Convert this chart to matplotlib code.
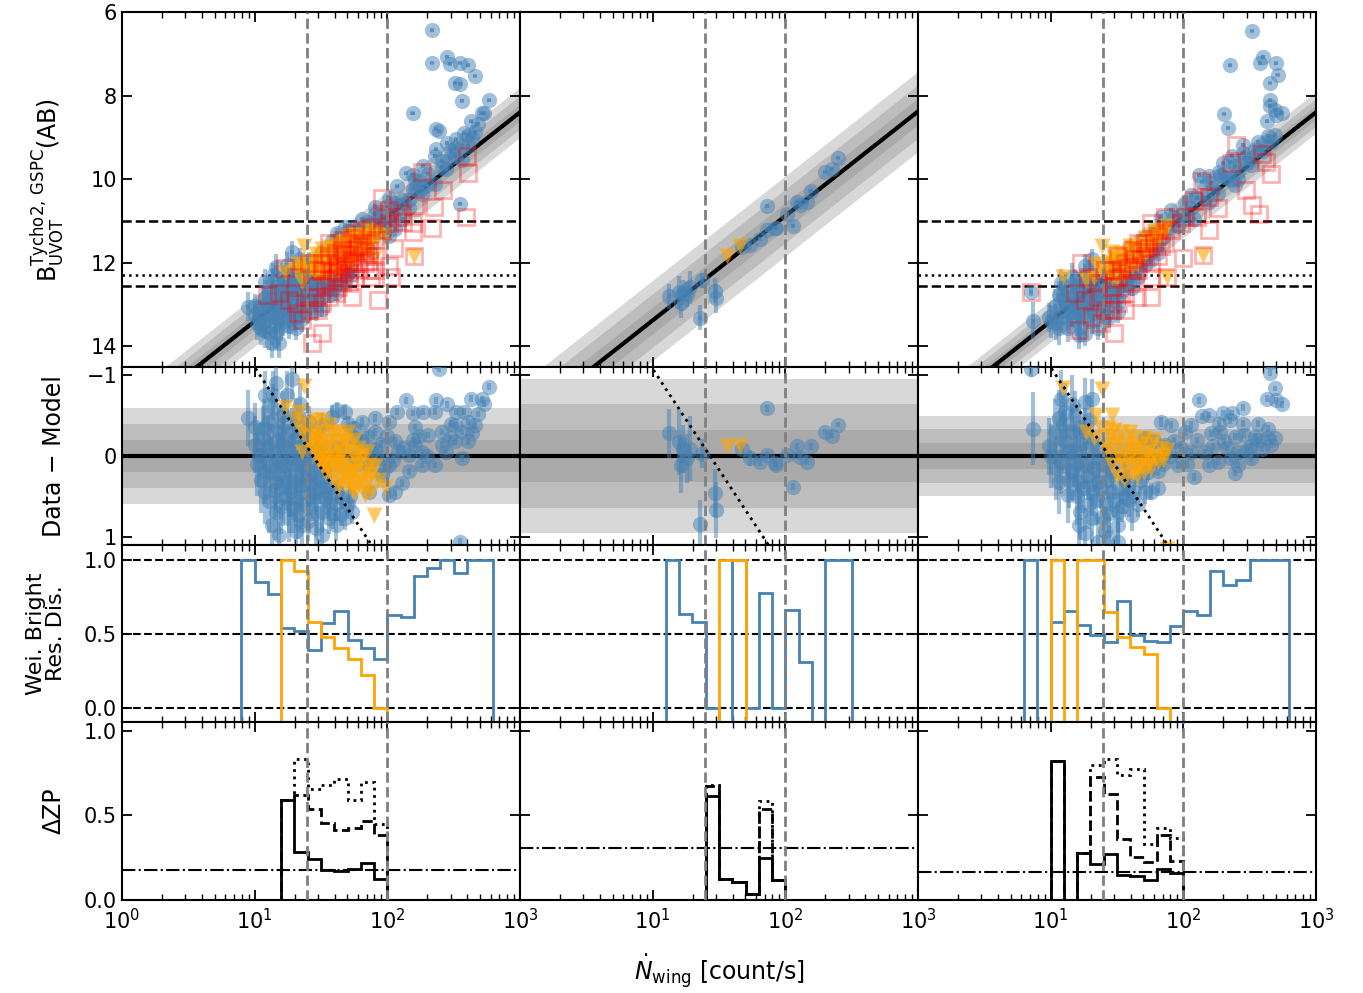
import numpy as np
import matplotlib
matplotlib.use("Agg")
import matplotlib.pyplot as plt
from matplotlib.ticker import FixedLocator, LogLocator, FuncFormatter, NullFormatter

# ---------------- data ----------------
ZP = [15.9, 15.88, 15.9]          # fitted zero points (mag)
SIGMA = [0.2, 0.32, 0.165]        # scatter of the fit (mag)
DZP_REF = [0.18, 0.31, 0.167]     # dash-dot reference level in the dZP panels
MAG_CUTS = [11.0, 12.55]          # dashed magnitude limits
MAG_DOT = 12.3                    # dotted magnitude limit
N_LINES = [25, 100]               # vertical dashed count-rate limits
SHOW_MAG_LINES = [True, False, True]

# blue points: (log10 Nwing, data-model residual, error)
blue_c1 = [
    (2.77,-0.86,.04),(2.63,-0.71,.04),(2.71,-0.70,.04),(2.73,-0.65,.04),(2.37,-0.69,.04),(2.45,-0.64,.04),
    (2.14,-0.69,.04),(2.52,-0.55,.04),(2.07,-0.55,.04),(2.19,-0.53,.04),(2.27,-0.55,.04),(2.36,-0.55,.04),
    (1.91,-0.47,.05),(2.01,-0.42,.05),(2.21,-0.36,.04),(2.61,-0.42,.04),(2.51,-0.38,.04),(2.64,-0.28,.04),
    (2.41,-0.30,.04),(2.31,-0.26,.04),(2.47,-0.22,.04),(2.19,-0.20,.04),(2.56,0.03,.04),(2.36,0.11,.04),
    (2.16,0.19,.04),(2.26,-0.05,.04),(2.08,-0.05,.05),(2.01,0.11,.05),(2.11,0.34,.05),(2.06,0.44,.05),
    (2.01,0.48,.05),(2.55,1.06,.04),(2.39,-1.08,.04),(1.62,-0.57,.10),(1.68,-0.55,.10),(1.81,-0.42,.06),
    (1.81,-0.18,.06),(1.91,-0.09,.06),(1.76,0.03,.08),(1.86,0.11,.06),(1.96,0.23,.05),(2.41,-0.14,.04),
    (2.51,-0.18,.04),(2.61,-0.18,.04),(2.26,0.11,.04),(2.16,-0.01,.04),(1.96,0.03,.05),(2.06,-0.18,.05),
    (1.91,-0.30,.05),(1.76,-0.22,.08),(1.63,-0.09,.10),(2.66,-0.38,.04),(2.56,-0.30,.04),(1.86,0.44,.06),
    (2.21,-0.14,.04),
    (2.34,-3.61,.03),(2.34,-2.83,.03),(2.45,-2.71,.03),(2.47,-2.49,.03),(2.55,-2.30,.03),(2.61,-2.10,.03),
    (2.66,-1.72,.03),(2.51,-1.93,.03),(2.55,-1.81,.03),(2.56,-1.38,.03),(2.19,-2.00,.03),(2.37,-1.18,.03),
    (0.95,-0.47,.35),(1.00,-0.36,.30),(1.08,-0.75,.30),(1.16,-0.90,.30),(1.28,-0.96,.25),(1.14,-0.59,.30),
    (1.21,-0.51,.30),(1.31,-0.47,.25),(1.41,-0.42,.20),(1.51,-0.38,.15),(1.06,-0.22,.40),(1.13,-0.05,.35),
    (1.21,-0.14,.35),(1.28,0.03,.30),(1.36,0.11,.25),(1.08,0.19,.40),(1.18,0.23,.35),(1.26,0.40,.35),
    (1.36,0.36,.30),(1.46,0.44,.25),(1.08,0.44,.40),(1.11,0.56,.40),(1.16,0.69,.35),(1.26,0.60,.35),
    (1.33,0.73,.30),(1.41,0.65,.30),(1.51,0.69,.25),(1.56,0.77,.20),(1.61,0.60,.20),(1.68,0.77,.15),
    (1.18,0.98,.35),(1.31,0.93,.30),(1.46,0.89,.25),(1.53,0.52,.20),(1.03,-0.01,.40),(1.38,-0.18,.25),
    (1.48,-0.09,.20),(1.16,0.32,.35),(1.23,0.11,.35),(1.31,0.23,.30),(1.41,0.23,.25),(1.51,0.28,.20),
    (1.21,0.52,.35),(1.31,0.52,.30),(1.41,0.48,.25),(1.26,0.77,.30),(1.36,0.85,.30),(1.13,0.85,.35),
    (1.56,0.60,.20),(1.66,0.52,.15),(1.73,0.69,.15),(1.00,-0.14,.35),(1.28,-0.30,.30),(1.18,-0.30,.30),
    (1.11,-0.42,.30),(1.46,0.19,.20),(1.36,-0.01,.25),(1.61,0.85,.20),(1.51,0.98,.20),
    (1.02,0.10,.40),(1.05,0.30,.40),(1.07,-0.35,.35),(1.10,-0.10,.40),(1.12,0.12,.35),(1.15,0.42,.35),
    (1.17,-0.20,.35),(1.19,0.05,.35),(1.20,0.62,.35),(1.22,-0.40,.30),(1.24,0.30,.30),(1.25,-0.10,.30),
    (1.27,0.45,.30),(1.29,0.65,.30),(1.30,-0.20,.30),(1.32,0.10,.30),(1.34,0.35,.30),(1.35,0.60,.30),
    (1.37,-0.30,.25),(1.39,0.28,.25),(1.40,0.80,.25),(1.42,0.05,.25),(1.44,0.55,.25),(1.45,0.35,.25),
    (1.47,0.70,.25),(1.49,0.40,.20),(1.52,0.15,.20),(1.54,0.45,.20),(1.57,0.40,.20),(1.59,0.70,.20),
    (1.62,0.45,.15),(1.65,0.72,.15),(1.70,0.60,.12),(1.72,0.50,.12),(1.58,-0.48,.15),(1.70,-0.40,.10),
    (1.75,-0.35,.08),(1.85,-0.25,.06),(1.95,-0.15,.05),(2.00,-0.25,.05),(1.88,-0.05,.06),(1.98,0.15,.05),
    (2.04,0.05,.05),(2.12,-0.10,.04),(2.24,-0.25,.04),(2.30,0.00,.04),(2.44,-0.05,.04),(2.48,-0.40,.04),
    (2.58,-0.55,.04),(2.68,-0.52,.04),(1.14,-0.75,.30),(1.24,-0.75,.30),(1.34,-0.65,.25),
]
blue_c2 = [
    (1.12,-0.28,.30),(1.20,-0.17,.40),(1.23,-0.09,.30),(1.21,0.11,.35),(1.26,0.03,.30),(1.28,-0.09,.40),
    (1.37,-0.03,.18),(1.47,0.46,.30),(1.48,0.67,.35),(1.36,0.84,.30),(1.67,-0.09,.05),(1.73,0.03,.10),
    (1.81,0.07,.05),(1.86,-0.01,.05),(1.86,-0.59,.04),(1.92,0.09,.04),(1.93,0.11,.04),(2.01,-0.01,.04),
    (2.06,0.38,.04),(2.09,-0.12,.04),(2.11,0.01,.04),(2.16,0.07,.04),(2.19,-0.12,.04),(2.30,-0.30,.03),
    (2.35,-0.25,.03),(2.40,-0.39,.03),
]
blue_c3 = [
    (2.65,-1.03,.04),(2.63,-0.71,.04),(2.70,-0.69,.04),(2.74,-0.64,.04),(2.12,-0.69,.04),(2.45,-0.60,.04),
    (2.37,-0.53,.04),(2.30,-0.53,.04),(2.19,-0.51,.04),(2.14,-0.49,.04),(2.06,-0.38,.05),(1.83,-0.42,.06),
    (1.91,-0.38,.05),(2.27,-0.40,.04),(2.35,-0.44,.04),(2.56,-0.40,.04),(2.64,-0.34,.04),(2.21,-0.28,.04),
    (2.01,-0.30,.05),(2.46,-0.26,.04),(2.54,-0.24,.04),(2.63,-0.22,.04),(2.69,-0.22,.04),(2.66,-0.14,.04),
    (2.39,-0.24,.04),(2.31,-0.18,.04),(2.41,-0.05,.04),(2.51,-0.12,.04),(2.59,-0.09,.04),(2.36,0.03,.04),
    (2.26,0.07,.04),(2.19,0.11,.04),(2.41,0.11,.04),(2.39,0.21,.04),(2.08,0.26,.05),(1.96,0.11,.05),
    (2.06,-0.05,.05),(2.16,-0.05,.04),(1.86,-0.14,.06),(1.78,-0.18,.07),(1.71,-0.22,.08),(1.81,0.40,.06),
    (1.81,0.19,.06),(1.93,-0.18,.05),(2.51,0.03,.04),
    (2.52,-3.15,.03),(2.35,-2.75,.03),(2.60,-2.33,.03),(2.58,-2.22,.03),(2.70,-1.92,.03),(2.71,-1.62,.03),
    (2.65,-1.58,.03),(2.65,-1.16,.03),(2.31,-1.69,.03),(2.34,-1.27,.03),(2.69,-0.84,.03),
    (0.87,-0.34,.45),(0.99,-0.12,.35),(1.08,-0.71,.35),(1.11,-0.55,.35),(1.18,-0.51,.30),(1.26,-0.67,.30),
    (1.31,-0.71,.25),(1.03,-0.30,.40),(1.11,-0.18,.40),(1.18,-0.05,.35),(1.08,0.07,.40),(1.16,0.19,.35),
    (1.06,0.32,.40),(1.21,0.32,.35),(1.26,0.11,.30),(1.31,0.44,.30),(1.13,0.48,.35),(1.22,0.69,.35),
    (1.31,0.77,.30),(1.41,0.60,.25),(1.51,0.69,.25),(1.61,0.73,.20),(1.51,0.85,.25),(1.41,0.93,.30),
    (1.36,0.32,.25),(1.46,0.44,.25),(1.56,0.52,.20),(1.66,0.60,.15),(1.76,0.44,.10),(1.36,0.03,.25),
    (1.46,0.19,.20),(1.56,0.28,.20),(1.06,-0.47,.35),(1.26,-0.30,.30),(1.31,-0.14,.30),(1.41,0.11,.25),
    (1.16,-0.30,.35),(1.36,1.06,.30),(1.51,1.06,.25),(1.21,0.85,.35),(1.58,0.36,.20),(1.71,0.44,.15),
    (0.85,-1.08,.10),
    (1.00,0.00,.40),(1.04,0.15,.40),(1.09,-0.40,.35),(1.13,-0.05,.35),(1.14,0.30,.35),(1.19,0.10,.35),
    (1.20,0.50,.35),(1.23,-0.15,.30),(1.24,0.40,.30),(1.28,0.25,.30),(1.29,0.60,.30),(1.33,0.15,.30),
    (1.34,0.55,.30),(1.38,0.40,.25),(1.39,0.75,.25),(1.43,0.30,.25),(1.44,0.70,.25),(1.48,0.55,.20),
    (1.53,0.40,.20),(1.54,0.62,.20),(1.59,0.55,.20),(1.63,0.45,.15),(1.68,0.30,.12),(1.73,0.20,.10),
    (1.78,0.05,.08),(1.85,0.10,.06),(1.90,0.00,.05),(1.98,-0.10,.05),(2.03,0.10,.05),(2.10,-0.20,.04),
    (2.22,-0.12,.04),(2.28,-0.30,.04),(2.33,-0.10,.04),(2.45,-0.40,.04),(2.48,-0.08,.04),(2.56,-0.20,.04),
    (1.16,-0.65,.35),(1.21,-0.35,.30),(1.29,-0.45,.30),(1.26,0.95,.30),(1.44,1.00,.25),
]

# orange triangles: (log10 Nwing, residual)
orange_c1 = [
    (1.37,-0.87),(1.23,-0.61),(1.33,-0.55),(1.37,-0.38),(1.56,-0.38),(1.41,-0.24),(1.51,-0.30),(1.61,-0.18),
    (1.46,-0.14),(1.56,-0.01),(1.66,-0.05),(1.76,0.03),(1.36,-0.05),(1.51,0.11),(1.56,0.19),(1.66,0.19),
    (1.76,0.19),(1.86,0.11),(1.91,0.13),(1.63,0.40),(1.76,0.44),(1.83,0.48),(1.73,0.32),(1.98,0.38),
    (1.90,0.73),(1.51,-0.05),(1.61,0.07),(1.71,0.11),(1.81,0.28),(1.51,-0.18),(1.61,-0.30),(1.71,-0.14),
    (1.81,-0.01),(1.46,-0.01),(1.51,0.07),(1.66,0.07),(1.86,0.28),(1.71,0.28),(1.56,-0.18),(2.20,1.45),
    (1.46,-0.30),(1.66,-0.25),
    (1.31,-0.45),(1.36,-0.30),(1.41,-0.40),(1.46,-0.45),(1.51,-0.45),(1.43,-0.20),(1.48,-0.22),(1.53,-0.12),
    (1.58,-0.28),(1.63,-0.10),(1.68,-0.18),(1.73,-0.05),(1.78,-0.10),(1.53,0.02),(1.58,0.08),(1.63,0.14),
    (1.68,0.24),(1.73,0.18),(1.78,0.10),(1.83,0.18),(1.88,0.22),(1.93,0.30),(1.68,0.36),(1.73,0.42),
    (1.78,0.34),(1.83,0.38),(1.88,0.45),(1.58,0.26),(1.63,0.30),(1.48,0.05),(1.53,0.20),(1.70,-0.30),
    (1.75,-0.20),(1.80,0.05),(1.85,-0.05),(1.65,0.00),(1.60,-0.05),(1.55,0.10),(1.45,-0.08),(1.40,-0.15),
]
orange_c2 = [(1.56,-0.13),(1.66,-0.12)]
orange_c3 = [
    (1.09,-0.84),(1.39,-0.83),(1.46,-0.51),(1.34,-0.51),(1.27,-0.30),(1.48,-0.32),(1.41,-0.14),(1.51,-0.18),
    (1.61,-0.22),(1.71,-0.22),(1.76,-0.14),(1.85,-0.01),(1.81,0.07),(1.71,0.03),(1.61,-0.01),(1.51,-0.01),
    (1.46,0.11),(1.56,0.15),(1.66,0.15),(1.61,0.23),(1.76,0.15),(1.56,-0.09),(1.66,-0.09),(1.43,-0.05),
    (1.33,-0.22),(2.15,1.29),(1.88,1.15),
    (1.43,-0.35),(1.48,-0.15),(1.53,-0.30),(1.53,0.05),(1.58,-0.15),(1.58,0.05),(1.63,-0.10),(1.63,0.10),
    (1.68,-0.15),(1.68,0.05),(1.73,-0.05),(1.73,0.12),(1.78,-0.20),(1.78,0.00),(1.83,-0.10),(1.88,-0.08),
    (1.50,0.25),(1.55,0.30),(1.65,0.25),(1.70,0.20),(1.38,-0.35),(1.45,-0.25),(1.60,-0.30),(1.75,0.05),
    (1.85,0.05),
]

# red squares (top panels only): (log10 Nwing, B mag)
red_c1 = [
    (2.60,9.44),(2.61,9.86),(2.26,9.84),(2.42,10.26),(1.96,10.46),(2.21,10.62),(2.35,10.66),(2.59,10.90),
    (2.07,10.90),(2.12,11.02),(2.19,11.06),(2.34,11.18),(2.19,11.26),(2.05,11.65),(2.20,11.85),(2.01,12.09),
    (2.03,12.33),(1.93,12.89),(1.73,12.81),(1.51,13.69),(1.43,13.93),(1.33,13.21),(1.36,13.37),(1.18,12.73),
    (1.09,12.77),(1.23,12.13),(1.81,11.53),(1.76,11.69),(1.71,12.01),(1.66,11.93),(1.61,11.77),(1.56,12.01),
    (1.51,12.17),(1.63,12.25),(1.76,12.33),(1.88,12.33),(1.91,11.85),(1.86,11.69),(1.56,12.41),(1.46,12.57),
    (1.41,12.81),(1.51,12.97),(1.61,12.73),(1.71,12.49),(1.46,12.17),(1.41,12.01),(1.31,12.33),(1.56,11.53),
    (1.66,11.45),(1.76,11.30),(1.88,11.14),(1.96,10.90),(2.01,10.74),(2.11,10.82),(1.91,11.45),(1.83,12.01),
    (1.63,12.57),(1.48,13.13),(1.31,12.97),(1.26,12.89),(1.61,12.09),(1.71,11.53),(1.81,11.85),(1.76,12.01),
    (1.66,11.69),(1.56,11.85),(1.86,12.17),(1.91,12.17),(1.51,12.01),(1.61,12.33),(1.71,12.25),(1.81,11.22),
    (1.96,11.22),(2.01,11.06),(1.46,12.81),(1.56,12.81),(1.41,13.13),
    (1.68,11.80),(1.73,11.95),(1.78,11.60),(1.83,11.75),(1.63,12.00),(1.58,12.20),(1.68,12.15),(1.73,11.40),
    (1.78,12.15),(1.53,12.50),(1.86,11.95),(1.66,12.45),
]
red_c2 = []
red_c3 = [
    (2.40,9.18),(2.59,9.40),(2.62,9.58),(2.66,9.88),(2.36,9.62),(2.14,10.04),(2.47,10.26),(2.19,10.42),
    (2.26,10.70),(2.52,10.62),(2.57,10.83),(2.10,10.90),(2.01,10.90),(2.19,11.22),(2.15,11.81),(2.00,11.89),
    (1.88,12.33),(1.76,12.81),(1.65,12.81),(1.48,13.69),(1.21,13.61),(0.85,12.69),(1.23,12.01),(1.28,12.33),
    (1.18,12.73),(1.26,12.89),(1.36,12.81),(1.41,13.13),(1.51,12.97),(1.31,13.29),(1.38,13.45),(1.61,11.69),
    (1.71,11.53),(1.81,11.37),(1.91,11.22),(1.98,11.06),(1.76,11.06),(1.86,11.53),(1.56,12.01),(1.66,12.17),
    (1.76,12.01),(1.51,12.33),(1.61,12.49),(1.46,12.57),(1.56,12.73),(1.41,12.17),(1.51,11.85),(1.71,11.85),
    (1.81,11.85),(1.66,11.53),(1.86,10.90),(2.08,10.50),(1.76,12.33),(1.61,12.17),(1.36,12.49),(1.46,13.13),
    (1.56,13.13),(1.46,12.17),
    (1.68,11.75),(1.73,11.65),(1.63,11.90),(1.58,12.10),(1.78,11.50),(1.83,11.60),(1.53,12.15),(1.48,12.40),
]

# histogram bins: edges in log10(Nwing), 0.8 ... 2.8 in steps of 0.1
BIN_EDGES_LOG = [0.8,0.9,1.0,1.1,1.2,1.3,1.4,1.5,1.6,1.7,1.8,1.9,2.0,2.1,2.2,2.3,2.4,2.5,2.6,2.7,2.8]
E = None  # empty bin
wbr_blue_c1 = [E,1.0,0.85,0.77,0.535,0.52,0.39,0.57,0.65,0.46,0.40,0.33,0.625,0.61,0.89,0.94,1.0,0.91,1.0,1.0]
wbr_orng_c1 = [E,E,E,E,1.0,0.92,0.58,0.48,0.40,0.33,0.22,0.0,E,E,E,E,E,E,E,E]
wbr_blue_c2 = [E,E,E,1.0,0.63,0.58,0.0,E,1.0,0.0,0.775,0.0,0.66,0.31,E,1.0,1.0,E,E,E]
wbr_orng_c2 = [E,E,E,E,E,E,E,1.0,1.0,E,E,E,E,E,E,E,E,E,E,E]
wbr_blue_c3 = [1.0,E,0.58,0.656,0.56,0.49,0.44,0.72,0.49,0.45,0.445,0.55,0.656,0.625,0.92,0.825,0.86,1.0,1.0,1.0]
wbr_orng_c3 = [E,E,1.0,E,1.0,1.0,0.645,0.48,0.41,0.364,0.0,E,E,E,E,E,E,E,E,E]

dzp_solid_c1  = [E,E,E,E,0.594,0.286,0.241,0.178,0.169,0.182,0.218,0.127,E,E,E,E,E,E,E,E]
dzp_dashed_c1 = [E,E,E,E,0.594,0.620,0.539,0.453,0.412,0.427,0.470,0.385,E,E,E,E,E,E,E,E]
dzp_dotted_c1 = [E,E,E,E,0.594,0.835,0.657,0.680,0.716,0.594,0.700,0.447,E,E,E,E,E,E,E,E]
dzp_solid_c2  = [E,E,E,E,E,E,0.614,0.124,0.108,0.035,0.251,0.118,E,E,E,E,E,E,E,E]
dzp_dashed_c2 = [E,E,E,E,E,E,0.673,0.124,0.108,0.035,0.539,0.118,E,E,E,E,E,E,E,E]
dzp_dotted_c2 = [E,E,E,E,E,E,0.678,0.124,0.108,0.035,0.584,0.118,E,E,E,E,E,E,E,E]
dzp_solid_c3  = [E,E,0.82,E,0.275,0.212,0.270,0.149,0.139,0.120,0.182,0.157,E,E,E,E,E,E,E,E]
dzp_dashed_c3 = [E,E,0.82,E,0.275,0.727,0.624,0.359,0.255,0.222,0.382,0.231,E,E,E,E,E,E,E,E]
dzp_dotted_c3 = [E,E,0.82,E,0.275,0.800,0.833,0.741,0.775,0.329,0.427,0.369,E,E,E,E,E,E,E,E]

BLUE = [blue_c1, blue_c2, blue_c3]
ORANGE = [orange_c1, orange_c2, orange_c3]
RED = [red_c1, red_c2, red_c3]
WBR_BLUE = [wbr_blue_c1, wbr_blue_c2, wbr_blue_c3]
WBR_ORNG = [wbr_orng_c1, wbr_orng_c2, wbr_orng_c3]
DZP = [(dzp_solid_c1, dzp_dashed_c1, dzp_dotted_c1),
       (dzp_solid_c2, dzp_dashed_c2, dzp_dotted_c2),
       (dzp_solid_c3, dzp_dashed_c3, dzp_dotted_c3)]

# ---------------- style ----------------
plt.rcParams.update({
    "font.family": ["DejaVu Sans"],
    "axes.linewidth": 1.5,
    "xtick.direction": "in", "ytick.direction": "in",
    "xtick.top": True, "ytick.right": True,
    "xtick.major.size": 7, "ytick.major.size": 7,
    "xtick.minor.size": 4, "ytick.minor.size": 4,
    "xtick.major.width": 1.3, "ytick.major.width": 1.3,
    "xtick.minor.width": 1.0,
    "xtick.major.pad": 6,
    "xtick.labelsize": 15, "ytick.labelsize": 15,
})
C_BLUE = "steelblue"
C_ORNG = "orange"
C_GREY_V = "#808080"

fig = plt.figure(figsize=(13.63, 9.93), dpi=100)
gs = fig.add_gridspec(4, 3, height_ratios=[2, 1, 1, 1], hspace=0, wspace=0,
                      left=122/1363, right=1316/1363, top=1-12/993, bottom=1-900/993)

xx = np.logspace(0, 3, 300)
edges = 10 ** np.array(BIN_EDGES_LOG)


def stair_vals(v):
    return np.array([-1.0 if a is None else a for a in v])


def xfmt_factory(hide_first):
    def f(x, pos):
        if hide_first and x < 1.5:
            return ""
        return r"$10^{%d}$" % int(round(np.log10(x)))
    return FuncFormatter(f)


for c in range(3):
    axs = [fig.add_subplot(gs[r, c]) for r in range(4)]
    zp, s = ZP[c], SIGMA[c]
    model = zp - 2.5 * np.log10(xx)

    b = np.array(BLUE[c])
    bN, bres, berr = 10 ** b[:, 0], b[:, 1], b[:, 2]
    bmag = zp - 2.5 * b[:, 0] + bres
    o = np.array(ORANGE[c])
    oN, ores = 10 ** o[:, 0], o[:, 1]
    omag = zp - 2.5 * o[:, 0] + ores

    # ---- row 1: magnitude vs count rate
    ax = axs[0]
    for k in (3, 2, 1):
        ax.fill_between(xx, model - k * s, model + k * s, color="gray", alpha=0.3, lw=0, zorder=1)
    ax.plot(xx, model, color="k", lw=3, zorder=2)
    if SHOW_MAG_LINES[c]:
        for m in MAG_CUTS:
            ax.axhline(m, color="k", ls="--", lw=1.8, zorder=2)
        ax.axhline(MAG_DOT, color="k", ls=":", lw=1.8, zorder=2)
    ax.errorbar(bN, bmag, xerr=0.035 * bN, yerr=berr, fmt="o", ms=11, color=C_BLUE,
                mec="none", alpha=0.5, elinewidth=3, capsize=0, zorder=3)
    ax.plot(oN, omag, "v", ms=11, color=C_ORNG, mec="none", alpha=0.6, zorder=4)
    if len(RED[c]):
        r_ = np.array(RED[c])
        ax.plot(10 ** r_[:, 0], r_[:, 1], "s", ms=11, mfc="none", mec="red", mew=2,
                alpha=0.3, zorder=5)
    ax.set_ylim(14.5, 6)
    ax.set_yticks([6, 8, 10, 12, 14])

    # ---- row 2: residuals
    ax = axs[1]
    for k in (3, 2, 1):
        ax.axhspan(-k * s, k * s, color="gray", alpha=0.3, lw=0, zorder=1)
    ax.axhline(0, color="k", lw=3, zorder=2)
    ax.errorbar(bN, bres, yerr=berr, fmt="o", ms=11, color=C_BLUE, mec="none",
                alpha=0.5, elinewidth=3, capsize=0, zorder=3)
    ax.plot(oN, ores, "v", ms=11, color=C_ORNG, mec="none", alpha=0.6, zorder=4)
    ax.plot(xx, MAG_DOT - model, color="k", ls=":", lw=2, zorder=6)
    ax.set_ylim(1.1, -1.1)
    ax.set_yticks([-1, 0, 1])

    # ---- row 3: weighted bright residual distribution
    ax = axs[2]
    for h in (0.0, 0.5, 1.0):
        ax.axhline(h, color="k", ls="--", lw=1.5, zorder=1)
    ax.stairs(stair_vals(WBR_BLUE[c]), edges, baseline=-1, color=C_BLUE, lw=2, zorder=3)
    ax.stairs(stair_vals(WBR_ORNG[c]), edges, baseline=-1, color=C_ORNG, lw=2, zorder=4)
    ax.set_ylim(-0.1, 1.1)
    ax.set_yticks([0.0, 0.5, 1.0])

    # ---- row 4: delta ZP
    ax = axs[3]
    sol, das, dot = DZP[c]
    ax.stairs(stair_vals(dot), edges, baseline=-1, color="k", lw=2, ls=":", zorder=3)
    ax.stairs(stair_vals(das), edges, baseline=-1, color="k", lw=2, ls="--", zorder=3)
    ax.stairs(stair_vals(sol), edges, baseline=-1, color="k", lw=2, ls="-", zorder=4)
    ax.axhline(DZP_REF[c], color="k", ls="-.", lw=1.5, zorder=2)
    ax.set_ylim(0, 1.05)
    ax.set_yticks([0.0, 0.5, 1.0])

    for r, ax in enumerate(axs):
        for n in N_LINES:
            ax.axvline(n, color=C_GREY_V, ls="--", lw=2, zorder=5)
        ax.set_xscale("log")
        ax.set_xlim(1, 1000)
        ax.xaxis.set_major_locator(FixedLocator([1, 10, 100, 1000]))
        ax.xaxis.set_minor_locator(LogLocator(base=10, subs=np.arange(2, 10)))
        ax.xaxis.set_minor_formatter(NullFormatter())
        if r == 3:
            ax.xaxis.set_major_formatter(xfmt_factory(c > 0))
        else:
            ax.xaxis.set_major_formatter(NullFormatter())
        if c > 0:
            ax.yaxis.set_major_formatter(NullFormatter())
        ax.tick_params(which="both", top=True, right=True)

    if c == 0:
        axs[0].set_ylabel(r"$\mathrm{B}^{\mathrm{Tycho2,\,GSPC}}_{\mathrm{UVOT}}$(AB)", fontsize=17)
        axs[1].set_ylabel("Data − Model", fontsize=17)
        axs[2].set_ylabel("Wei. Bright\nRes. Dis.", fontsize=16, linespacing=1.0)
        axs[3].set_ylabel("ΔZP", fontsize=17)
        for ax in axs:
            ax.yaxis.set_label_coords(-0.14, 0.5)
    if c == 1:
        axs[3].set_xlabel(r"$\dot{N}_{\rm wing}$ [count/s]", fontsize=17, labelpad=14)

fig.savefig("out.png", dpi=100)
